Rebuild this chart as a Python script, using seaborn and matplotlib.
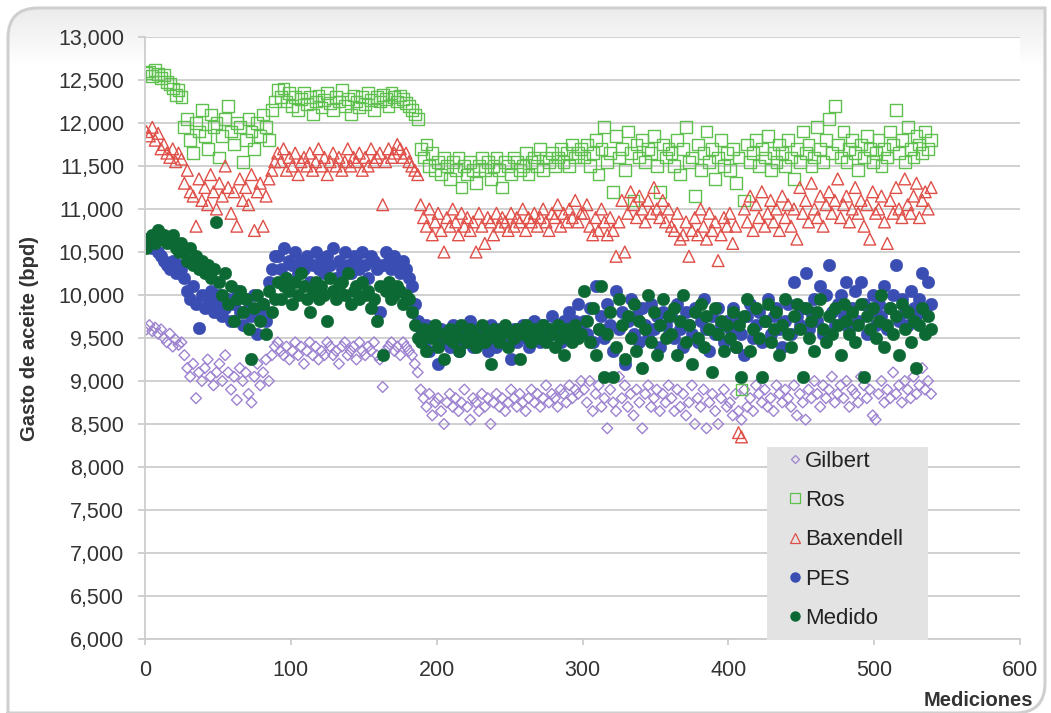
import numpy as np
import pandas as pd
import matplotlib
matplotlib.use("Agg")
import matplotlib.pyplot as plt
import seaborn as sns
from matplotlib.patches import PathPatch, Rectangle
from matplotlib.path import Path
from matplotlib.lines import Line2D
from matplotlib.ticker import FuncFormatter

# ---------------- data (every second measurement, values in bpd) ----------------
medicion = np.arange(1, 541, 2)

gilbert = [
    9600, 9650, 9580, 9620, 9550, 9600, 9500, 9450, 9550, 9400, 9480, 9420, 9450,
    9300, 9150, 9050, 9200, 8800, 9100, 9000, 9150, 9250, 9050, 8950, 9100, 9200, 9000, 9300, 9100,
    8900, 9050, 8780, 9150, 9000, 9100, 8850, 8750, 9050, 9200, 8950, 9100, 9250, 9000, 9300, 9400,
    9450, 9350, 9300, 9400, 9250, 9350, 9450, 9300, 9400, 9200, 9350, 9450, 9300, 9400, 9250, 9350,
    9300, 9450, 9400, 9300, 9350, 9200, 9400, 9450, 9300, 9350, 9400, 9250, 9450, 9350, 9300, 9400,
    9350, 9450, 9300, 9250, 8930, 9350, 9400, 9450, 9350, 9400, 9300, 9450, 9400, 9350, 9300, 9200, 9100,
    8900, 8800, 8700, 8850, 8600, 8750, 8800, 8650, 8500, 8750, 8850, 8700, 8800, 8650, 8750, 8900,
    8700, 8550, 8800, 8750, 8650, 8850, 8700, 8800, 8500, 8750, 8850, 8700, 8800, 8650, 8750, 8900,
    8800, 8700, 8850, 8750, 8650, 8800, 8900, 8750, 8850, 8700, 8800, 8950, 8750, 8850, 8800, 8700,
    8900, 8850, 8750, 8950, 8800, 8900, 8850, 9000,
    8900, 8750, 9000, 8650, 8850, 8950, 8700, 8800, 8450, 8900, 8750, 8650, 9050, 8800, 8950, 8700,
    8850, 8600, 8900, 8750, 8450, 8850, 8950, 8700, 8800, 8900, 8650, 8850, 8750, 8950,
    8800, 8650, 8900, 8700, 8850, 8600, 8750, 8950, 8500, 8800, 8700, 8900, 8450, 8750, 8850, 8650,
    8500, 8800, 8900, 8700,
    8750, 8600, 8850, 8650, 8550, 8900, 8700, 8800, 8650, 8950, 8850, 8750, 8900, 8700, 8800, 8650,
    8950, 8850, 8750, 8900, 8800, 8700, 8950, 8600, 8850, 8750, 8550, 8900, 8800, 9000, 8850, 8700,
    8950, 8800, 8900, 9050, 8750, 8850, 8950, 8800, 9000, 8700, 8900, 8850, 8750, 9050, 8950, 8800,
    8900, 8600, 8550, 8850, 9000, 8750, 8900, 8800, 9100, 8850, 8950, 8750, 9000, 8900, 8800, 9050,
    8850, 8950, 9150, 8900, 9000, 8850,
]

ros = [
    12580, 12600, 12550, 12620, 12570, 12520, 12560, 12480, 12450, 12400, 12330, 12380, 12300,
    11950, 12050, 11800, 11650, 12000, 11900, 12150, 11850, 11700, 12100, 11950, 12000, 11600, 11850,
    12050, 12200, 11900, 11750, 12000, 11950, 11550, 11800, 12050, 11900, 11700, 12000, 11850, 12100,
    11950, 11800, 12150, 12250,
    12380, 12300, 12400, 12250, 12350, 12200, 12300, 12150, 12280, 12350, 12220, 12300, 12100, 12250,
    12320, 12180, 12270, 12350, 12230, 12150, 12300, 12250, 12380, 12200, 12280, 12100, 12320, 12250,
    12180, 12300, 12220, 12350, 12270, 12150, 12300, 12250, 12330, 12280, 12200, 12350, 12300, 12250,
    12320, 12280, 12230, 12200, 12150, 12100, 12050,
    11700, 11600, 11750, 11500, 11650, 11450, 11550, 11400, 11600, 11500, 11350, 11550, 11450, 11600,
    11250, 11500, 11400, 11550, 11450, 11300, 11500, 11600, 11450, 11550, 11350, 11500, 11600, 11450,
    11250, 11550, 11500, 11400, 11600, 11550, 11450, 11500, 11650, 11400, 11550, 11600, 11500, 11700,
    11450, 11600, 11550, 11650, 11500, 11600, 11700, 11550, 11650, 11500, 11750, 11600, 11650, 11700,
    11600, 11750, 11500, 11650, 11800, 11400, 11700, 11950, 11550, 11650, 11200, 11850, 11600, 11700,
    11450, 11900, 11650, 11100, 11750, 11600, 11800, 11550, 11700, 11650, 11850, 11500, 11200, 11750,
    11600, 11700,
    11650, 11500, 11800, 11400, 11700, 11950, 11550, 11600, 11150, 11750, 11450, 11650, 11900, 11550,
    11700, 11350, 11600, 11800, 11500, 11650,
    11450, 11700, 11300, 11600, 8900, 11100, 11750, 11550, 11650, 11800, 11500, 11700, 11600, 11850,
    11450, 11650, 11550, 11750, 11650, 11500, 11800, 11600, 11350, 11700, 11550, 11900, 11650, 11750,
    11500, 11600, 11950, 11700, 11550, 11800, 12050, 11650, 12200, 11750, 11600, 11900, 11550, 11700,
    11800, 11650, 11450, 11750, 11600, 11850, 11700, 11550, 11650, 11800, 11500, 11700, 11600, 11900,
    11750, 12150, 11650, 11800, 11550, 11950, 11700, 11600, 11850, 11750, 11650, 11900, 11700, 11800,
]

baxendell = [
    11900, 11850, 11950, 11800, 11880, 11700, 11750, 11650, 11600, 11700, 11550, 11650, 11580,
    11300, 11450, 11200, 11150, 10800, 11350, 11100, 11250, 11050, 11400, 11200, 11000, 11300, 11150,
    11500, 11250, 10950, 11200, 10800, 11350, 11100, 11250, 11050, 11400, 10750, 11200, 11300, 10800,
    11150, 11350, 11450, 11550,
    11650, 11550, 11700, 11450, 11600, 11500, 11650, 11400, 11550, 11600, 11500, 11650, 11450, 11550,
    11700, 11500, 11600, 11400, 11550, 11650, 11500, 11600, 11450, 11550, 11700, 11500, 11600, 11550,
    11650, 11450, 11600, 11500, 11700, 11550, 11600, 11650, 11050, 11550, 11700, 11600, 11650, 11750,
    11700, 11600, 11650, 11550, 11500, 11450, 11400,
    11050, 10900, 10800, 11000, 10700, 10850, 10950, 10750, 10500, 10900, 10800, 11000, 10850, 10700,
    10950, 10800, 10900, 10750, 10850, 10500, 10950, 10800, 10600, 10900, 10850, 10700, 10950, 10800,
    10900, 10850, 10750, 10950, 10800, 10900, 10850, 11000, 10750, 10900, 10850, 10950, 10800, 10900,
    11000, 10850, 10750, 10950, 10900, 11050, 10800, 10950, 10850, 11000, 10900, 11100, 10850, 10950,
    10950, 11050, 10800, 10700, 10900, 10750, 11000, 10850, 10700, 10900, 10750, 10450, 10850, 11100,
    10500, 10950, 11200, 11050, 10900, 11150, 11000, 10850, 11100, 10950, 11250, 11000, 10900, 11100,
    10850, 11000,
    10800, 10750, 10950, 10650, 10700, 10850, 10450, 10750, 10900, 10700, 11000, 10800, 10650, 10950,
    10750, 10850, 10400, 10700, 10900, 10800,
    10950, 10600, 10800, 8400, 8350, 11000, 10850, 11150, 10750, 11050, 10900, 11200, 10800, 10950,
    11100, 10850, 11000, 10750, 11150, 10900, 11050, 10800, 11000, 10650, 11250, 10950, 11100, 10850,
    11300, 11000, 10900, 11150, 10800, 11050, 11200, 10950, 11100, 11350, 10900, 11050, 11150, 10850,
    11000, 11250, 10950, 11100, 10800, 11050, 10650, 11200, 10950, 11000, 11150, 10850, 10600, 11100,
    10950, 11250, 11000, 10900, 11350, 11050, 10950, 11150, 11300, 10900, 11100, 11200, 11000, 11250,
]

pes = [
    10650, 10600, 10550, 10600, 10500, 10450, 10400, 10350, 10300, 10400, 10250, 10350, 10300,
    10200, 10050, 9950, 10100, 9900, 9620, 10000, 9850, 9950, 10050, 9800, 9900, 10000, 9750,
    9850, 9950, 9700, 9900, 10050, 9800, 9650, 9950, 9850, 9750, 10000, 9550, 9800, 9900,
    9700, 10150, 10300, 10450,
    10450, 10300, 10550, 10200, 10400, 10350, 10500, 10250, 10400, 10300, 10450, 10150, 10350, 10500,
    10300, 10400, 10250, 10450, 10350, 10550, 10200, 10400, 10300, 10500, 10350, 10250, 10450, 10400,
    10300, 10500, 10350, 10200, 10450, 10400, 10300, 9800, 10350, 10500, 10400, 10300, 10450, 10350,
    10250, 10400, 10300, 10200, 10100, 9900, 9700,
    9600, 9450, 9650, 9350, 9550, 9500, 9200, 9600, 9450, 9550, 9400, 9650, 9500, 9350,
    9600, 9450, 9550, 9700, 9400, 9500, 9600, 9450, 9550, 9350, 9650, 9500, 9400, 9600,
    9550, 9450, 9500, 9250, 9600, 9450, 9550, 9650, 9500, 9400, 9600, 9700, 9550, 9450,
    9650, 9500, 9600, 9750, 9550, 9650, 9450, 9700, 9600, 9800, 9550, 9700, 9900, 9650,
    9700, 9550, 9850, 9450, 10100, 9600, 9750, 9500, 9900, 9650, 9350, 10050, 9600, 9800,
    9200, 9700, 9950, 9550, 9750, 9450, 9850, 9650, 9500, 9900, 9600, 9750, 9400, 9800,
    9650, 9550,
    9750, 9500, 9900, 9600, 9400, 9800, 9650, 9550, 9850, 9450, 9700, 9950, 9600, 9350,
    9750, 9550, 9850, 9650, 9450, 9700,
    9600, 9850, 9400, 9700, 9550, 9300, 9750, 9900, 9500, 9650, 9800, 9450, 9700, 9950,
    9550, 9750, 9850, 9600, 9400, 9700, 9900, 9550, 10150, 9750, 9650, 9850, 10250, 9600,
    9800, 9950, 9700, 10100, 9550, 10000, 10350, 9800, 9650, 9900, 10000, 9750, 10150, 9600,
    9850, 10050, 9700, 10150, 9900, 9550, 9800, 10000, 9650, 9900, 9750, 10100, 9600, 9850,
    10000, 10350, 9700, 9950, 9800, 9650, 10050, 9850, 9750, 9950, 10250, 9800, 10150, 9900,
]

medido = [
    10550, 10650, 10700, 10600, 10750, 10650, 10700, 10600, 10650, 10700, 10550, 10500, 10600,
    10500, 10400, 10550, 10350, 10450, 10300, 10400, 10250, 10350, 10200, 10300, 10850, 10150, 10000,
    10250, 9900, 10100, 9700, 9950, 10050, 9800, 9950, 9600, 9250, 9850, 10000, 9700, 9900,
    9550, 10050, 9800, 9950,
    10150, 9950, 10100, 10200, 10050, 9900, 10150, 10000, 10250, 10100, 9950, 9800, 10050, 10150,
    9950, 10100, 10000, 9700, 10200, 10050, 9950, 10100, 10150, 10000, 10250, 9900, 10050, 10100,
    9950, 10150, 10000, 10050, 9850, 9950, 9700, 10100, 9300, 10050, 10150, 9950, 10000, 10100,
    10050, 9900, 10000, 9950, 9800, 9650, 9500,
    9450, 9600, 9350, 9550, 9500, 9650, 9400, 9550, 9250, 9500, 9600, 9450, 9550, 9350,
    9650, 9500, 9450, 9600, 9550, 9400, 9500, 9650, 9450, 9550, 9200, 9600, 9500, 9450,
    9550, 9650, 9400, 9550, 9500, 9600, 9250, 9550, 9650, 9500, 9450, 9600, 9550, 9500,
    9650, 9450, 9600, 9550, 9400, 9650, 9500, 9300, 9600, 9550, 9450, 9650, 9500, 9550,
    10050, 9700, 9450, 9850, 9300, 9600, 10100, 9050, 9550, 9800, 9050, 9400, 9950, 9650,
    9250, 9750, 9500, 9900, 9350, 9700, 9150, 9600, 10000, 9450, 9800, 9300, 9650, 9950,
    9500, 9750,
    9550, 9850, 9300, 9700, 10000, 9450, 9650, 9200, 9800, 9500, 9900, 9400, 9750, 9600,
    9100, 9850, 9550, 9700, 9350, 9650,
    9500, 9800, 9400, 9650, 9050, 9750, 9950, 9350, 9600, 9850, 9500, 9050, 9700, 9900,
    9450, 9600, 9800, 9300, 9650, 9950, 9550, 9400, 9750, 9900, 9600, 9050, 9850, 9500,
    9700, 9350, 9800, 9950, 9600, 9450, 9750, 9550, 9850, 9650, 9300, 9900, 9700, 9550,
    9800, 9450, 9650, 9900, 9050, 9750, 9600, 9850, 9500, 9700, 10000, 9400, 9650, 9850,
    9550, 9750, 9300, 9900, 9600, 9800, 9450, 9700, 9150, 9650, 9850, 9550, 9750, 9600,
]

series_names = ["Gilbert", "Ros", "Baxendell", "PES", "Medido"]
y_ticks = list(range(6000, 13001, 500))
x_ticks = [0, 100, 200, 300, 400, 500, 600]

for arr in (gilbert, ros, baxendell, pes, medido):
    assert len(arr) == len(medicion), len(arr)

df = pd.concat(
    [pd.DataFrame({"Medicion": medicion, "Gasto": vals, "Serie": name})
     for name, vals in zip(series_names, [gilbert, ros, baxendell, pes, medido])],
    ignore_index=True)

# ---------------- style ----------------
sns.set_theme(style="white")
plt.rcParams["font.family"] = ["Liberation Sans", "DejaVu Sans"]

W, H = 1051, 713
fig = plt.figure(figsize=(W / 100, H / 100), dpi=100)
fig.patch.set_facecolor("white")

# background frame with gradient
bg = fig.add_axes([0, 0, 1, 1], zorder=-10)
bg.set_xlim(0, W)
bg.set_ylim(H, 0)
bg.axis("off")
r = 30
verts = [(8, H + 5), (8, 8 + r), (8, 8), (8 + r, 8), (1045, 8), (1045, H - r), (1045, H),
         (1045 - r, H), (8, H), (8, H + 5)]
codes = [Path.MOVETO, Path.LINETO, Path.CURVE3, Path.CURVE3, Path.LINETO, Path.LINETO,
         Path.CURVE3, Path.CURVE3, Path.LINETO, Path.LINETO]
frame = PathPatch(Path(verts, codes), facecolor="none", edgecolor="#cfcfcf", lw=2.2)
rows = np.arange(H)
shade = np.clip((rows - 8) / 60.0, 0, 1)
grad = (0.92 + 0.08 * shade)[:, None] * np.ones((1, 4))
img = bg.imshow(grad, cmap="gray", vmin=0, vmax=1, extent=[0, W, H, 0], aspect="auto")
clip = PathPatch(Path(verts, codes), transform=bg.transData)
img.set_clip_path(clip)
bg.add_patch(frame)

ax = fig.add_axes([145 / W, 1 - 639 / H, 875 / W, 602 / H])
ax.set_facecolor("white")

c_gil, c_ros, c_bax, c_pes, c_med = "#9d83d0", "#5fbf4f", "#df4f48", "#3a4db3", "#0c6934"
styles = {
    "Gilbert": dict(marker="D", s=30, facecolor="none", edgecolor=c_gil, linewidth=1.0),
    "Ros": dict(marker="s", s=72, facecolor="none", edgecolor=c_ros, linewidth=1.0),
    "Baxendell": dict(marker="^", s=72, facecolor="none", edgecolor=c_bax, linewidth=1.0),
    "PES": dict(marker="o", s=82, facecolor=c_pes, edgecolor=c_pes, linewidth=0.3),
    "Medido": dict(marker="o", s=82, facecolor=c_med, edgecolor=c_med, linewidth=0.3),
}
for name in series_names:
    sub = df[df["Serie"] == name]
    sns.scatterplot(data=sub, x="Medicion", y="Gasto", ax=ax, legend=False, **styles[name])

ax.set_xlim(0, 600)
ax.set_ylim(6000, 13000)
ax.set_xticks(x_ticks)
ax.set_yticks(y_ticks)
ax.yaxis.set_major_formatter(FuncFormatter(lambda v, p: f"{v:,.0f}"))
ax.set_xlabel("")
ax.set_ylabel("")
ax.set_axisbelow(True)
ax.yaxis.grid(True, color="#cdcdcd", lw=1.3)
ax.xaxis.grid(False)
for side in ("top", "right"):
    ax.spines[side].set_visible(False)
for side in ("left", "bottom"):
    ax.spines[side].set_color("#cdcdcd")
    ax.spines[side].set_linewidth(1.3)
ax.tick_params(axis="y", length=5, width=1.3, color="#cdcdcd", labelsize=15.5,
               labelcolor="#333333", pad=10, left=True)
ax.tick_params(axis="x", length=4, width=1.3, color="#cdcdcd", labelsize=15.5,
               labelcolor="#333333", pad=11, bottom=True)

fig.text(30 / W, 1 - 338 / H, "Gasto de aceite (bpd)", rotation=90, ha="center", va="center",
         fontsize=14.5, fontweight="bold", color="#333333")
fig.text(1033 / W, 1 - 700 / H, "Mediciones", ha="right", va="center",
         fontsize=14.5, fontweight="bold", color="#333333")

# legend box
ax.add_patch(Rectangle(((767 - 145) / 875, (639 - 640) / 602), 161 / 875, 193 / 602,
                       transform=ax.transAxes, facecolor="#e3e3e3", edgecolor="none",
                       zorder=5, clip_on=False))
handles = [
    Line2D([], [], ls="none", marker="D", ms=4.5, mfc="none", mec=c_gil, mew=0.9),
    Line2D([], [], ls="none", marker="s", ms=6.5, mfc="none", mec=c_ros, mew=0.9),
    Line2D([], [], ls="none", marker="^", ms=7, mfc="none", mec=c_bax, mew=0.9),
    Line2D([], [], ls="none", marker="o", ms=6.5, mfc=c_pes, mec=c_pes),
    Line2D([], [], ls="none", marker="o", ms=6.5, mfc=c_med, mec=c_med),
]
leg = ax.legend(handles, series_names, loc="upper left",
                bbox_to_anchor=((788 - 145) / 875, (639 - 451) / 602),
                frameon=False, fontsize=16, handlelength=0.6, handletextpad=0.15,
                labelspacing=0.82, borderpad=0, borderaxespad=0)
leg.set_zorder(6)
for t in leg.get_texts():
    t.set_color("#222222")

fig.savefig("out.png", dpi=100)
